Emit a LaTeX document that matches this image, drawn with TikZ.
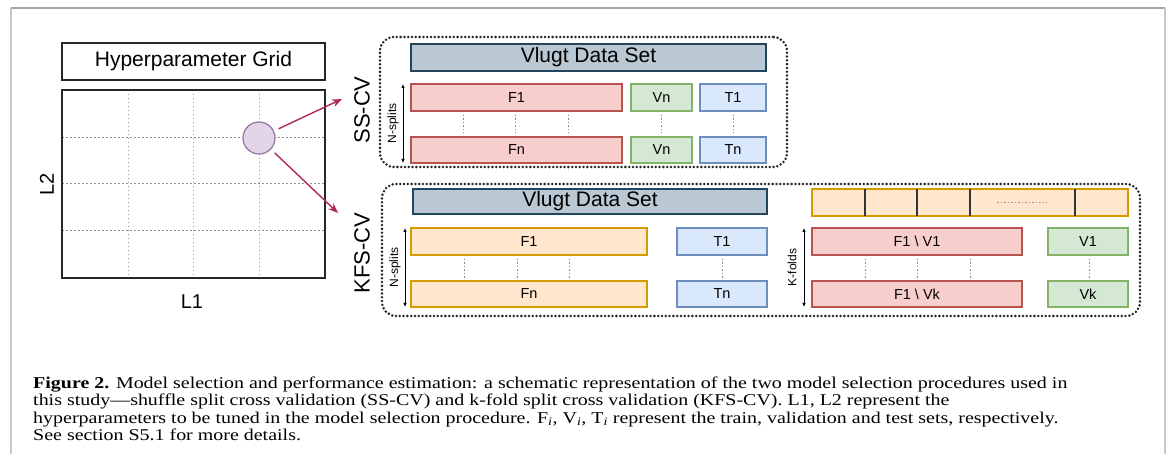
\documentclass[tikz,border=0pt]{standalone}
\usepackage{fontspec}
\setmainfont{Liberation Serif}
\newfontfamily\dsans{Liberation Sans}
\newfontfamily\capfont[FakeStretch=1.21,Ligatures=TeX]{Liberation Serif}
\usetikzlibrary{arrows.meta,calc}
\definecolor{vfill}{HTML}{BAC8D3}
\definecolor{vdraw}{HTML}{23445D}
\definecolor{rfill}{HTML}{F8CECC}
\definecolor{rdraw}{HTML}{B85450}
\definecolor{gfill}{HTML}{D5E8D4}
\definecolor{gdraw}{HTML}{82B366}
\definecolor{bfill}{HTML}{DAE8FC}
\definecolor{bdraw}{HTML}{6C8EBF}
\definecolor{ofill}{HTML}{FFE6CC}
\definecolor{odraw}{HTML}{D79B00}
\definecolor{pfill}{HTML}{E1D5E7}
\definecolor{pdraw}{HTML}{9673A6}
\definecolor{arrowc}{HTML}{B0285A}
\definecolor{framec}{HTML}{C8C8C8}
\newcommand\mybox[7]{\node[#2, minimum width={(#5-#3)*1pt}, minimum height={(#6-#4)*1pt}] (#1) at ({(#3+#5)/2},{(#4+#6)/2}) {#7};}
\tikzset{
  base/.style={inner sep=0pt, outer sep=0pt, line width=1.2pt, font=\dsans\fontsize{14.5}{16}\selectfont},
  vlugt/.style={base, fill=vfill, draw=vdraw, font=\dsans\fontsize{21}{24}\selectfont},
  redbox/.style={base, fill=rfill, draw=rdraw},
  greenbox/.style={base, fill=gfill, draw=gdraw},
  bluebox/.style={base, fill=bfill, draw=bdraw},
  orangebox/.style={base, fill=ofill, draw=odraw},
  plainbox/.style={inner sep=0pt, outer sep=0pt, draw=black!85, line width=1.4pt, font=\dsans\fontsize{21}{24}\selectfont},
  groupbox/.style={inner sep=0pt, outer sep=0pt, draw=black!85, line width=2.8pt, dash pattern=on 0pt off 3.8pt, line cap=round, rounded corners=14pt},
  vdots/.style={draw=gray!90, line width=1pt, dash pattern=on 1.5pt off 2pt},
  griddots/.style={draw=gray!85, line width=1pt, dash pattern=on 1.5pt off 2.5pt},
  redarrow/.style={draw=arrowc, line width=1.4pt, -{Stealth[length=10pt,width=8pt]}},
  sizearrow/.style={draw=black, line width=0.9pt, {Latex[length=4pt,width=3.5pt]}-{Latex[length=4pt,width=3.5pt]}},
  biglabel/.style={font=\dsans\fontsize{22}{24}\selectfont, rotate=90},
  smalllabel/.style={font=\dsans\fontsize{12}{13}\selectfont, rotate=90},
  axislabel/.style={font=\dsans\fontsize{20}{22}\selectfont},
  captext/.style={anchor=base west, inner sep=0pt, font=\capfont\fontsize{16.5}{17.5}\selectfont},
}
\begin{document}
\begin{tikzpicture}[x=1pt,y=-1pt]
\useasboundingbox (0,0) rectangle (1170,454);
% page frame
\draw[framec, line width=2pt] (11,454) -- (11,8);
\draw[gray!70, line width=1.6pt] (11,8) -- (1165,8);
\draw[framec, line width=2pt] (1165,8) -- (1165,454);

% left: hyperparameter grid
\mybox{title}{plainbox}{62}{43}{325}{80}{Hyperparameter Grid}
\foreach \x in {128,193,259} \draw[griddots] (\x,90) -- (\x,278);
\foreach \y in {138,184,231} \draw[griddots] (62,\y) -- (325,\y);
\mybox{grid}{plainbox}{62}{90}{325}{278}{}
\node[circle, fill=pfill, draw=pdraw, line width=1.2pt, minimum size=32pt, inner sep=0pt] (pt) at (259,138) {};
\node[axislabel, rotate=90] (l2) at (47,184) {L2};
\node[axislabel] (l1) at (192,302) {L1};
\coordinate (ssend) at (342,99);
\coordinate (kfend) at (338,213);
\draw[redarrow, shorten <=5pt] (pt) -- (ssend);
\draw[redarrow, shorten <=5pt] (pt) -- (kfend);

% SS-CV group
\mybox{ssgroup}{groupbox}{380}{37}{787}{167}{}
\node[biglabel] (sslab) at (362,110) {SS-CV};
\mybox{vlugt1}{vlugt}{411}{44}{766}{71}{Vlugt Data Set}
\mybox{f1a}{redbox}{411}{84}{622}{111}{F1}
\mybox{vna}{greenbox}{631}{84}{692}{111}{Vn}
\mybox{t1a}{bluebox}{700}{84}{766}{111}{T1}
\mybox{fna}{redbox}{411}{137}{622}{163}{Fn}
\mybox{vnb}{greenbox}{631}{137}{692}{163}{Vn}
\mybox{tna}{bluebox}{700}{137}{766}{163}{Tn}
\foreach \x in {463,515,568} \draw[vdots] (\x,115) -- (\x,133);
\draw[vdots] (vna.south) ++(0,4) -- ($(vnb.north)+(0,-4)$);
\draw[vdots] (t1a.south) ++(0,4) -- ($(tna.north)+(0,-4)$);
\coordinate (ssa1) at (403,84);
\coordinate (ssa2) at (403,163);
\draw[sizearrow] (ssa1) -- (ssa2);
\node[smalllabel] (ssn) at (393,123.5) {N-splits};

% KFS-CV group
\mybox{kfgroup}{groupbox}{382}{184}{1140}{316}{}
\node[biglabel] (kflab) at (362,253) {KFS-CV};
\mybox{vlugt2}{vlugt}{413}{189}{767}{214}{Vlugt Data Set}
\mybox{f1b}{orangebox}{411}{228}{647}{255}{F1}
\mybox{t1b}{bluebox}{677}{228}{767}{255}{T1}
\mybox{fnb}{orangebox}{411}{281}{647}{307}{Fn}
\mybox{tnb}{bluebox}{677}{281}{767}{307}{Tn}
\foreach \x in {464,517,569} \draw[vdots] (\x,259) -- (\x,278);
\draw[vdots] (722,259) -- (722,278);
\coordinate (kfa1) at (405,228);
\coordinate (kfa2) at (405,307);
\draw[sizearrow] (kfa1) -- (kfa2);
\node[smalllabel] (kfn) at (395,267.5) {N-splits};

% folds
\mybox{folds}{orangebox}{812}{189}{1128}{216}{}
\foreach \x in {865,917,970,1075} \draw[black!80, line width=1.6pt] (\x,189) -- (\x,216);
\draw[gray!80, line width=0.9pt, dash pattern=on 1.5pt off 2pt] (997,202.5) -- (1047,202.5);
\mybox{f1v1}{redbox}{812}{228}{1022}{255}{F1 \textbackslash\ V1}
\mybox{v1}{greenbox}{1048}{228}{1128}{255}{V1}
\mybox{f1vk}{redbox}{812}{281}{1022}{307}{F1 \textbackslash\ Vk}
\mybox{vk}{greenbox}{1048}{281}{1128}{307}{Vk}
\foreach \x in {865,917,970} \draw[vdots] (\x,259) -- (\x,278);
\draw[vdots] (1089,259) -- (1089,278);
\coordinate (kfb1) at (804,228);
\coordinate (kfb2) at (804,307);
\draw[sizearrow] (kfb1) -- (kfb2);
\node[smalllabel] (kff) at (792,267.5) {K-folds};

% caption
\node[captext] (cap1) at (33,388) {\textbf{Figure 2.} Model selection and performance estimation: a schematic representation of the two model selection procedures used in};
\node[captext] (cap2) at (33,405.5) {this study---shuffle split cross validation (SS-CV) and k-fold split cross validation (KFS-CV). L1, L2 represent the};
\node[captext] (cap3) at (33,423) {hyperparameters to be tuned in the model selection procedure. F\textsubscript{\textit{i}}, V\textsubscript{\textit{i}}, T\textsubscript{\textit{i}} represent the train, validation and test sets, respectively.};
\node[captext] (cap4) at (33,440.5) {See section S5.1 for more details.};
\end{tikzpicture}
\end{document}
